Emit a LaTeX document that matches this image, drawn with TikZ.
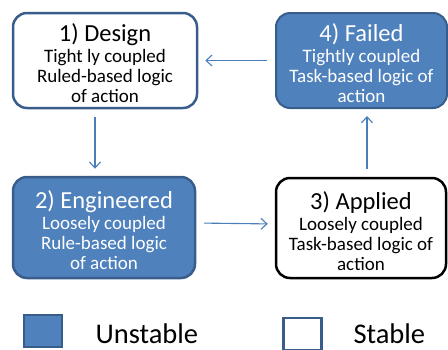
\documentclass[tikz,border=0pt]{standalone}
\usepackage{fontspec}
\setmainfont{Carlito}
\usetikzlibrary{arrows.meta, positioning}
\definecolor{boxblue}{HTML}{4F81BD}
\definecolor{edgeblue}{HTML}{385D8A}
\definecolor{arrowblue}{HTML}{4A7EBB}
\newcommand{\stagetitle}[1]{{\fontsize{24.5}{26}\selectfont\rule{0pt}{24pt}#1}\\[1pt]}

\begin{document}
\begin{tikzpicture}[x=1pt, y=-1pt,
    stage/.style={rectangle, rounded corners=14pt, align=center, line width=2.5pt, inner sep=1pt, font=\fontsize{19}{20}\selectfont},
    unstable/.style={stage, draw=edgeblue, fill=boxblue, text=white},
    stable/.style={stage, draw=edgeblue, fill=white, text=black},
    flow/.style={-{Straight Barb[length=6pt, width=11pt]}, arrowblue, line width=1.1pt, shorten <=8pt, shorten >=7pt},
    keybox/.style={rectangle, draw=edgeblue, minimum width=38pt, minimum height=32pt},
    keytext/.style={anchor=base west, font=\fontsize{28.5}{30}\selectfont}]
    \useasboundingbox (0,0) rectangle (448,349);
    % the four stages
    \node[stable, minimum width=184pt, minimum height=95pt] (design) at (105,60.5) {\stagetitle{1) Design}Tight ly coupled\\Ruled-based logic\\of action};
    \node[unstable, minimum width=182pt, minimum height=101pt] (engineered) at (104,227.5) {\stagetitle{2) Engineered}Loosely coupled\\Rule-based logic\\of action};
    \node[stable, draw=black, minimum width=170pt, minimum height=100pt] (applied) at (361,228) {\stagetitle{3) Applied}Loosely coupled\\Task-based logic of\\action};
    \node[unstable, line width=2pt, minimum width=171pt, minimum height=95pt] (failed) at (361.5,60.5) {\stagetitle{4) Failed}Tightly coupled\\Task-based logic of\\action};
    % transitions
    \draw[flow] ([xshift=-10pt]design.south) -- ([xshift=-9pt]engineered.north);
    \draw[flow] ([yshift=4.5pt]engineered.east) -- ([yshift=4pt]applied.west);
    \draw[flow] ([xshift=6pt]applied.north) -- ([xshift=5.5pt]failed.south);
    \draw[flow] (failed.west) -- (design.east);
    % legend
    \node[keybox, fill=boxblue, line width=2pt] (keyunstable) at (43,331) {};
    \node[keytext] (unstabletext) at (92,343) {Unstable};
    \node[keybox, fill=white, line width=2.5pt] (keystable) at (302.5,334) {};
    \node[keytext] (stabletext) at (350,343) {Stable};
\end{tikzpicture}
\end{document}
